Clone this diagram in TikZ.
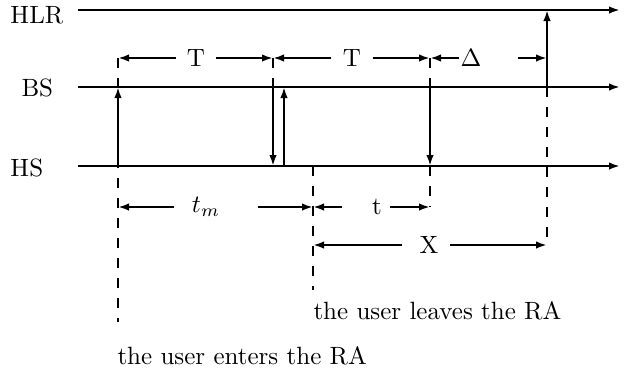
\documentclass[tikz,border=0pt]{standalone}
\usepackage{amssymb}
\usetikzlibrary{arrows.meta}

\tikzset{
	axis/.style={line width=1pt,-{Latex[length=4.4pt,width=3pt]}},
	sig/.style={line width=1pt,-{Latex[length=4.4pt,width=3pt]}},
	ext/.style={line width=0.9pt,dash pattern=on 4pt off 4pt},
	dim/.style={line width=1pt,-{Latex[length=4.4pt,width=3pt]}},
	lbl/.style={inner sep=0pt},
	txt/.style={inner sep=0pt,anchor=base west}
}

\begin{document}
\begin{tikzpicture}[x=0.4pt,y=-0.4pt]
		\useasboundingbox (0,0) rectangle (624,374);
		% stations
		\node[txt] (hlr) at (10,23) {HLR};
		\node[txt] (bs) at (21,96) {BS};
		\node[txt] (hs) at (10,176) {HS};
		\coordinate (hlrA) at (78,10);  \coordinate (hlrB) at (620,10);
		\coordinate (bsA) at (78,87);   \coordinate (bsB) at (620,87);
		\coordinate (hsA) at (78,166);  \coordinate (hsB) at (620,166);
		\draw[axis] (hlrA) -- (hlrB);
		\draw[axis] (bsA) -- (bsB);
		\draw[axis] (hsA) -- (hsB);
		% event points
		\coordinate (a0) at (118,58);  \coordinate (a1) at (118,87);
		\coordinate (a2) at (118,166); \coordinate (a3) at (118,207);
		\coordinate (a4) at (118,322);
		\coordinate (b0) at (273,58);  \coordinate (b1) at (273,87);
		\coordinate (b2) at (273,166);
		\coordinate (c1) at (284,87);  \coordinate (c2) at (284,166);
		\coordinate (d2) at (313,166); \coordinate (d3) at (313,207);
		\coordinate (d5) at (313,245); \coordinate (d4) at (313,290);
		\coordinate (f0) at (430,58);  \coordinate (f1) at (430,87);
		\coordinate (f2) at (430,166); \coordinate (f3) at (430,207);
		\coordinate (g0) at (547,58);  \coordinate (g1) at (547,87);
		\coordinate (gH) at (547,10);  \coordinate (g5) at (547,245);
		% dashed marks
		\draw[ext] (a0) -- (a4);
		\draw[ext] (b0) -- (b1);
		\draw[ext] (d2) -- (d4);
		\draw[ext] (f0) -- (f1);
		\draw[ext] (f2) -- (f3);
		\draw[ext] (g1) -- (g5);
		% messages
		\draw[sig] (a2) -- (a1);
		\draw[sig] (b1) -- (b2);
		\draw[sig] (c2) -- (c1);
		\draw[sig] (f1) -- (f2);
		\draw[sig] (g1) -- (gH);
		% intervals
		\node[lbl] (T1) at (196,58) {T};
		\draw[dim] ([xshift=-4pt]T1.west) -- (a0);
		\draw[dim] ([xshift=4pt]T1.east) -- (b0);
		\node[lbl] (T2) at (352,58) {T};
		\draw[dim] ([xshift=-4.4pt]T2.west) -- (b0);
		\draw[dim] ([xshift=4.4pt]T2.east) -- (f0);
		\node[lbl] (del) at (471,58) {$\Delta$};
		\draw[dim] ([xshift=-0.4pt]del.west) -- (f0);
		\draw[dim] ([xshift=14.4pt]del.east) -- (g0);
		\node[lbl] (tm) at (206,207) {$t_m$};
		\draw[dim] ([xshift=-6.8pt]tm.west) -- (a3);
		\draw[dim] ([xshift=14.8pt]tm.east) -- (d3);
		\node[lbl] (tt) at (377,207) {t};
		\draw[dim] ([xshift=-12pt]tt.west) -- (d3);
		\draw[dim] ([xshift=3.2pt]tt.east) -- (f3);
		\node[lbl] (X) at (429,245) {X};
		\draw[dim] ([xshift=-6.8pt]X.west) -- (d5);
		\draw[dim] ([xshift=4.4pt]X.east) -- (g5);
		% notes
		\node[txt] (leave) at (313,319) {the user leaves the RA};
		\node[txt] (enter) at (117,364) {the user enters the RA};
\end{tikzpicture}
\end{document}
